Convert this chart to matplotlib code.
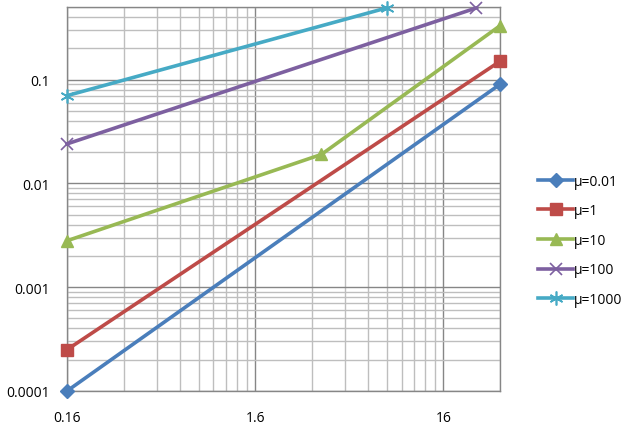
import matplotlib.pyplot as plt
import numpy as np
from matplotlib.ticker import FixedLocator, NullFormatter

# data
x_001 = [0.16, 32]
y_001 = [0.0001, 0.09]
x_1 = [0.16, 32]
y_1 = [0.00025, 0.15]
x_10 = [0.16, 3.6, 32]
y_10 = [0.0028, 0.019, 0.33]
x_100 = [0.16, 24]
y_100 = [0.024, 0.49]
x_1000 = [0.16, 8]
y_1000 = [0.07, 0.49]

labels = ['μ=0.01', 'μ=1', 'μ=10', 'μ=100', 'μ=1000']
colores = ['#4A7EBB', '#BE4B48', '#98B954', '#7D60A0', '#46AAC5']

xtick_vals = [0.16, 1.6, 16]
xtick_txt = ['0.16', '1.6', '16']
ytick_vals = [0.0001, 0.001, 0.01, 0.1]
ytick_txt = ['0.0001', '0.001', '0.01', '0.1']

plt.rcParams['font.family'] = ['Open Sans', 'DejaVu Sans']

fig = plt.figure(figsize=(6.25, 4.31), dpi=100)
ax = fig.add_axes([67/625, 1 - 392/431, (500-67)/625, (392-8)/431])
ax.set_xscale('log')
ax.set_yscale('log')

lw = 2.6
ax.plot(x_001, y_001, color=colores[0], lw=lw, marker='D', ms=7, label=labels[0], zorder=5, clip_on=False)
ax.plot(x_1, y_1, color=colores[1], lw=lw, marker='s', ms=8, label=labels[1], zorder=5, clip_on=False)
ax.plot(x_10, y_10, color=colores[2], lw=lw, marker='^', ms=9, label=labels[2], zorder=5, clip_on=False)
ax.plot(x_100, y_100, color=colores[3], lw=lw, marker='x', ms=9, mew=1.2, label=labels[3], zorder=5, clip_on=False)
ax.plot(x_1000, y_1000, color=colores[4], lw=lw, marker=(6, 2, 0), ms=10, mew=1.2, label=labels[4], zorder=5, clip_on=False)

ax.set_xlim(0.16, 32)
ax.set_ylim(0.0001, 0.5)

# excel-style ticks: majors at 0.16*10^n, minors at 0.16*k*10^n
xminor = [0.16 * k * 10**d for d in range(3) for k in range(2, 10)]
xminor = [v for v in xminor if v <= 32.01]
yminor = [k * 10.0**d for d in range(-4, 0) for k in range(2, 10)]
yminor = [v for v in yminor if v <= 0.5001]

ax.xaxis.set_major_locator(FixedLocator(xtick_vals))
ax.xaxis.set_minor_locator(FixedLocator(xminor))
ax.yaxis.set_major_locator(FixedLocator(ytick_vals))
ax.yaxis.set_minor_locator(FixedLocator(yminor))
ax.set_xticklabels(xtick_txt)
ax.set_yticklabels(ytick_txt)
ax.xaxis.set_minor_formatter(NullFormatter())
ax.yaxis.set_minor_formatter(NullFormatter())

ax.tick_params(which='both', length=0, labelsize=10, colors='black')
ax.tick_params(axis='x', pad=14)
ax.tick_params(axis='y', pad=12)

ax.grid(True, which='major', color='#868686', lw=1.0)
ax.grid(True, which='minor', color='#BEBEBE', lw=1.0)
ax.set_axisbelow(True)
for s in ax.spines.values():
    s.set_color('#868686')
    s.set_linewidth(1.0)

fig.legend(loc='center left', bbox_to_anchor=(0.85, 0.44), frameon=False,
           fontsize=10, handlelength=2.5, handletextpad=0.1, labelspacing=1.05,
           borderpad=0)

fig.savefig('out.png', dpi=100)
